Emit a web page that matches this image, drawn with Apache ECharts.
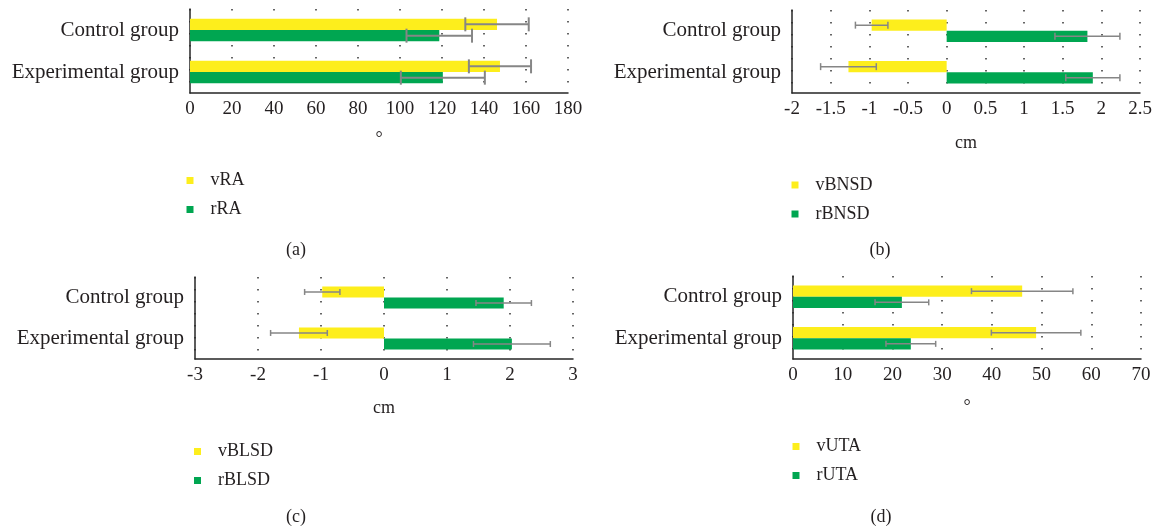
<!DOCTYPE html>
<html><head><meta charset="utf-8">
<script src="https://cdn.jsdelivr.net/npm/echarts@6/dist/echarts.min.js"></script>
<style>html,body{margin:0;padding:0;background:#fff}#c{width:1157px;height:528px}</style>
</head><body><div id="c"></div>
<script>
const categories = ['Control group', 'Experimental group'];
// (a) RA, degrees
const vRA = [146.2, 147.6];  const vRA_sd = [15.1, 14.8];
const rRA = [118.7, 120.4];  const rRA_sd = [15.6, 20.0];
// (b) BNSD, cm
const vBNSD = [-0.97, -1.27]; const vBNSD_sd = [0.21, 0.36];
const rBNSD = [1.82, 1.89];   const rBNSD_sd = [0.42, 0.35];
// (c) BLSD, cm
const vBLSD = [-0.98, -1.35]; const vBLSD_sd = [0.28, 0.45];
const rBLSD = [1.90, 2.03];   const rBLSD_sd = [0.44, 0.61];
// (d) UTA, degrees
const vUTA = [46.1, 48.9]; const vUTA_sd = [10.2, 9.0];
const rUTA = [21.9, 23.7]; const rUTA_sd = [5.4, 5.0];

const axisRanges = [[0, 180, 20], [-2, 2.5, 0.5], [-3, 3, 1], [0, 70, 10]];
const axisNames = ['°', 'cm', 'cm', '°'];
const legendNames = [['vRA', 'rRA'], ['vBNSD', 'rBNSD'], ['vBLSD', 'rBLSD'], ['vUTA', 'rUTA']];
const panelLabels = ['(a)', '(b)', '(c)', '(d)'];
const panelData = [
  [vRA, vRA_sd, rRA, rRA_sd],
  [vBNSD, vBNSD_sd, rBNSD, rBNSD_sd],
  [vBLSD, vBLSD_sd, rBLSD, rBLSD_sd],
  [vUTA, vUTA_sd, rUTA, rUTA_sd]
];

const FONT = 'Liberation Serif';
const TXT = '#231F20';
const YELLOW = '#FDEE1C';
const GREEN = '#00A651';

const grids = [
  {left: 190, top: 9, width: 378, height: 84},
  {left: 792, top: 10, width: 348, height: 83},
  {left: 195, top: 277, width: 378, height: 82},
  {left: 793, top: 276, width: 348, height: 83}
];
const nameGaps = [37, 41, 40, 39];
const legendPos = [
  {left: 181.5, top: 166.5}, {left: 786.5, top: 171},
  {left: 189, top: 437.5}, {left: 787.5, top: 432.5}
];
const labelPos = [[296, 250], [880, 250], [296, 517], [881, 517]];
const capLen = [14, 7, 6, 6];
const errW = [2, 1.5, 1.5, 1.5];

function errRender(p, side) {
  return function (params, api) {
    const cat = api.value(0), mean = api.value(1), sd = api.value(2);
    const band = api.size([0, 1])[1];
    const yc = api.coord([mean, cat])[1] + side * 0.135 * band;
    const x1 = api.coord([mean - sd, cat])[0];
    const x2 = api.coord([mean + sd, cat])[0];
    const h = capLen[p] / 2;
    const st = {stroke: '#868686', lineWidth: errW[p]};
    return {type: 'group', children: [
      {type: 'line', shape: {x1: x1, y1: yc, x2: x2, y2: yc}, style: st},
      {type: 'line', shape: {x1: x1, y1: yc - h, x2: x1, y2: yc + h}, style: st},
      {type: 'line', shape: {x1: x2, y1: yc - h, x2: x2, y2: yc + h}, style: st}
    ]};
  };
}

const option = {
  animation: false,
  backgroundColor: '#fff',
  textStyle: {fontFamily: FONT},
  grid: grids,
  xAxis: [], yAxis: [], series: [], legend: [],
  graphic: panelLabels.map((t, i) => ({
    type: 'text', x: labelPos[i][0], y: labelPos[i][1],
    style: {text: t, font: '18px "' + FONT + '"', fill: TXT, align: 'center', verticalAlign: 'middle'}
  }))
};

for (let p = 0; p < 4; p++) {
  const [mn, mx, iv] = axisRanges[p];
  option.xAxis.push({
    type: 'value', gridIndex: p, min: mn, max: mx, interval: iv,
    name: axisNames[p], nameLocation: 'middle', nameGap: nameGaps[p],
    nameTextStyle: {fontFamily: FONT, fontSize: 18, color: TXT},
    axisLine: {show: true, onZero: false, lineStyle: {color: '#262626', width: 1.5}},
    axisTick: {show: false},
    axisLabel: {fontFamily: FONT, fontSize: 19, color: TXT, margin: 7},
    splitLine: {show: true, lineStyle: {color: '#333', width: 1.5, type: [1.5, 10.5]}}
  });
  option.yAxis.push({
    type: 'category', gridIndex: p, data: categories, inverse: true,
    axisLine: {show: true, onZero: false, lineStyle: {color: '#262626', width: 1.5}},
    axisTick: {show: false},
    axisLabel: {fontFamily: FONT, fontSize: 21, color: TXT, margin: 11},
    splitLine: {show: false}
  });
  const [v, vsd, r, rsd] = panelData[p];
  const [nv, nr] = legendNames[p];
  option.series.push(
    {type: 'bar', name: nv, xAxisIndex: p, yAxisIndex: p, data: v, barWidth: '27%', barGap: '0%',
     itemStyle: {color: YELLOW}},
    {type: 'bar', name: nr, xAxisIndex: p, yAxisIndex: p, data: r, barWidth: '27%', barGap: '0%',
     itemStyle: {color: GREEN}},
    {type: 'custom', xAxisIndex: p, yAxisIndex: p, z: 5, renderItem: errRender(p, -1),
     data: v.map((m, i) => [i, m, vsd[i]]), encode: {x: 1, y: 0}},
    {type: 'custom', xAxisIndex: p, yAxisIndex: p, z: 5, renderItem: errRender(p, 1),
     data: r.map((m, i) => [i, m, rsd[i]]), encode: {x: 1, y: 0}}
  );
  option.legend.push({
    data: [nv, nr], orient: 'vertical', left: legendPos[p].left, top: legendPos[p].top,
    icon: 'rect', itemWidth: 7, itemHeight: 7, itemGap: 11,
    textStyle: {fontFamily: FONT, fontSize: 18, color: TXT, padding: [0, 0, 0, 12]}
  });
}

const chart = echarts.init(document.getElementById('c'), null, {renderer: 'canvas'});
chart.setOption(option);
</script></body></html>
